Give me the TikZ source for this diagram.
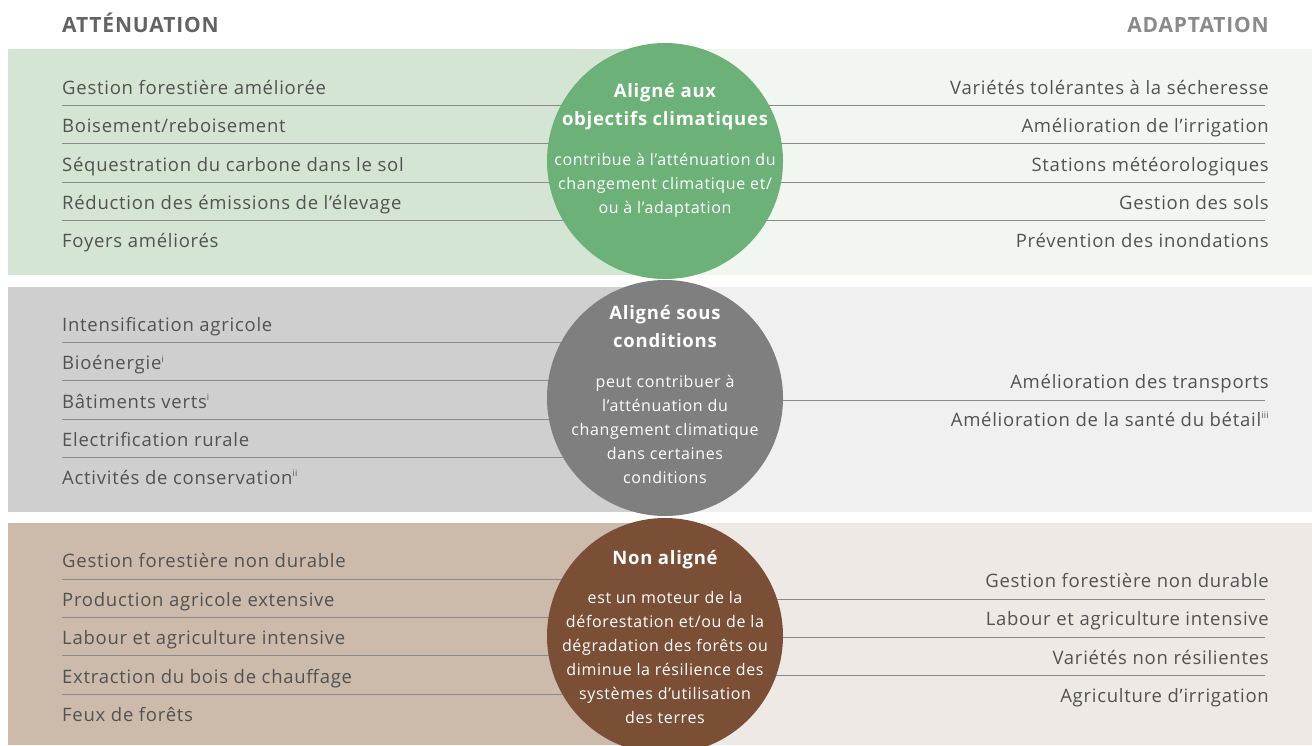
\documentclass[tikz,border=0pt]{standalone}
\usepackage{fontspec}
\setmainfont[LetterSpace=4]{Open Sans}

\definecolor{gruenL}{HTML}{D4E5D3}
\definecolor{gruenR}{HTML}{F2F6F1}
\definecolor{gruenK}{HTML}{6CB278}
\definecolor{grauL}{HTML}{CFCFCF}
\definecolor{grauR}{HTML}{F0F0F0}
\definecolor{grauK}{HTML}{7E7F7E}
\definecolor{braunL}{HTML}{CCBAAB}
\definecolor{braunR}{HTML}{EFE9E5}
\definecolor{braunK}{HTML}{7A4F35}
\definecolor{schrift}{HTML}{525252}
\definecolor{linie}{HTML}{8A8A8A}

\newcommand{\hoch}[1]{\raisebox{0.8ex}{\fontsize{9}{9}\selectfont #1}}

\tikzset{
  eintragL/.style={anchor=mid west, inner sep=0pt, text=schrift, font=\fontsize{18.5}{18.5}\selectfont},
  eintragR/.style={anchor=mid east, inner sep=0pt, text=schrift, font=\fontsize{18.5}{18.5}\selectfont},
  trenner/.style={draw=linie, line width=0.9pt},
  kreis/.style={circle, minimum size=236pt, inner sep=0pt},
  ktitel/.style={text=white, align=center, inner sep=0pt, font=\fontsize{18.5}{28}\selectfont\bfseries},
  ktext/.style={text=white, align=center, inner sep=0pt, font=\fontsize{16}{24}\selectfont},
}

\begin{document}
\begin{tikzpicture}[x=1pt, y=-1pt]
  \useasboundingbox (0,0) rectangle (1312,745);

  % zeichne Ueberschriften
  \node[anchor=mid west, inner sep=0pt, text=schrift!90, font=\fontsize{21}{21}\selectfont\bfseries] (att) at (62,30) {ATTÉNUATION};
  \node[anchor=mid east, inner sep=0pt, text=linie, font=\fontsize{21}{21}\selectfont\bfseries] (ada) at (1269,30) {ADAPTATION};

  % zeichne Hintergrundstreifen
  \fill[gruenL] (8,49) rectangle (664,275);
  \fill[gruenR] (664,49) rectangle (1312,275);
  \fill[grauL] (8,287) rectangle (664,512);
  \fill[grauR] (664,287) rectangle (1312,512);
  \fill[braunL] (8,523) rectangle (664,745);
  \fill[braunR] (664,523) rectangle (1312,745);

  % Trennlinien
  \foreach \y in {105,143,182,220}
    \draw[trenner] (62,\y) -- (1265,\y);
  \foreach \y in {342,380,419,457}
    \draw[trenner] (62,\y) -- (664,\y);
  \draw[trenner] (664,400) -- (1265,400);
  \foreach \y in {579,617,655,694}
    \draw[trenner] (62,\y) -- (664,\y);
  \foreach \y in {599,637,675}
    \draw[trenner] (664,\y) -- (1265,\y);

  % Eintraege links
  \foreach \t [count=\i] in {Gestion forestière améliorée, Boisement/reboisement,
      Séquestration du carbone dans le sol, Réduction des émissions de l’élevage, Foyers améliorés}
    \node[eintragL] (gl\i) at (62,{92+38.3*(\i-1)}) {\t};
  \foreach \t [count=\i] in {Intensification agricole, Bioénergie\hoch{i}, Bâtiments verts\hoch{i},
      Electrification rurale, Activités de conservation\hoch{ii}}
    \node[eintragL] (hl\i) at (62,{329+38.3*(\i-1)}) {\t};
  \foreach \t [count=\i] in {Gestion forestière non durable, Production agricole extensive,
      Labour et agriculture intensive, Extraction du bois de chauffage, Feux de forêts}
    \node[eintragL] (bl\i) at (62,{565+38.5*(\i-1)}) {\t};

  % Eintraege rechts
  \foreach \t [count=\i] in {Variétés tolérantes à la sécheresse, Amélioration de l’irrigation,
      Stations météorologiques, Gestion des sols, Prévention des inondations}
    \node[eintragR] (gr\i) at (1269,{92+38.3*(\i-1)}) {\t};
  \node[eintragR] (hr1) at (1269,386) {Amélioration des transports};
  \node[eintragR] (hr2) at (1269,424) {Amélioration de la santé du bétail\hoch{iii}};
  \foreach \t [count=\i] in {Gestion forestière non durable, Labour et agriculture intensive,
      Variétés non résilientes, Agriculture d’irrigation}
    \node[eintragR] (br\i) at (1269,{585+38.3*(\i-1)}) {\t};

  % Kreise
  \node[kreis, fill=gruenK] (gruen) at (665,161) {};
  \node[ktitel] (gruenT) at (665,107) {Aligné aux\\objectifs climatiques};
  \node[ktext] (gruenB) at (665,185) {contribue à l’atténuation du\\changement climatique et/\\ou à l’adaptation};

  \node[kreis, fill=grauK] (grau) at (665,398) {};
  \node[ktitel] (grauT) at (665,326) {Aligné sous\\conditions};
  \node[ktext] (grauB) at (665,429) {peut contribuer à\\l’atténuation du\\changement climatique\\dans certaines\\conditions};

  \node[kreis, fill=braunK] (braun) at (665,636) {};
  \node[ktitel] (braunT) at (665,560) {Non aligné};
  \node[ktext] (braunB) at (665,657) {est un moteur de la\\déforestation et/ou de la\\dégradation des forêts ou\\diminue la résilience des\\systèmes d’utilisation\\des terres};
\end{tikzpicture}
\end{document}
